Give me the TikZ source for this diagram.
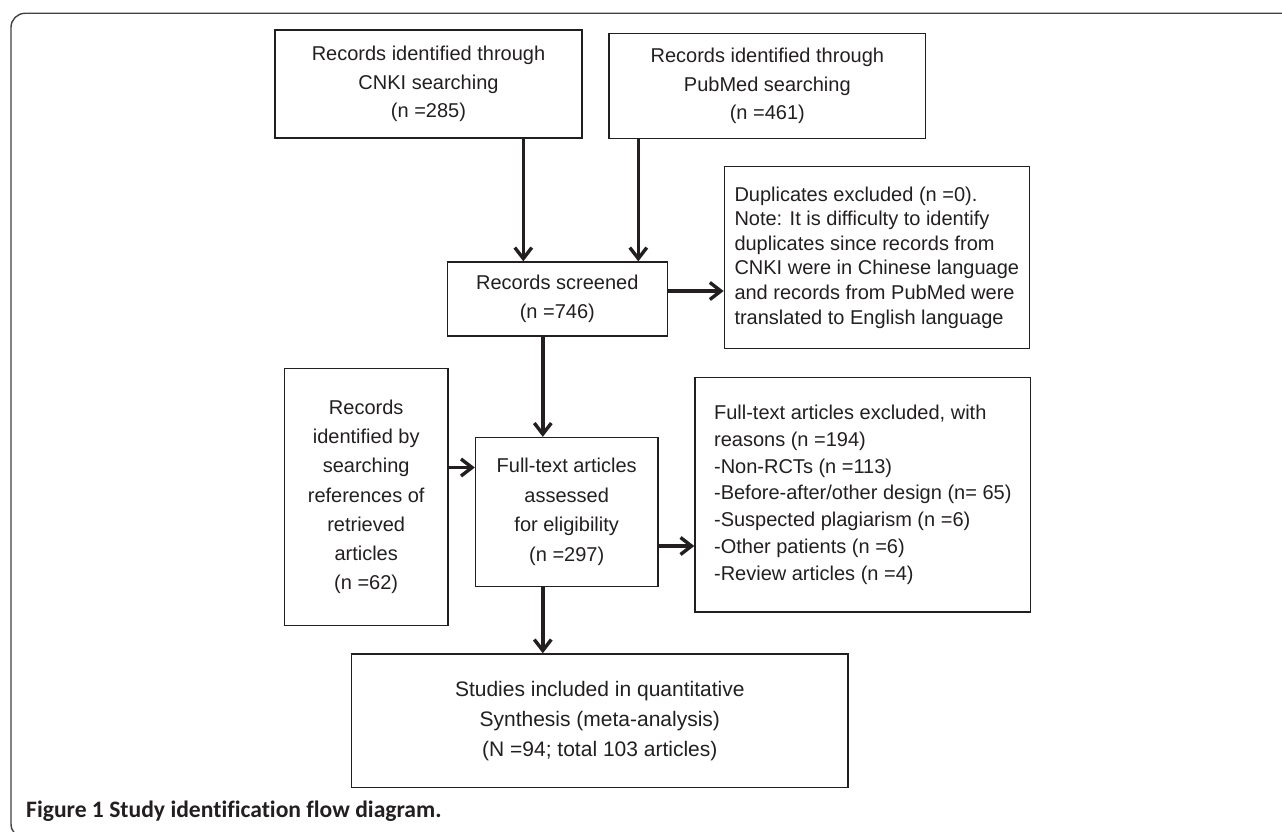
\documentclass[tikz,border=0pt]{standalone}
\usepackage{fontspec}
\setmainfont{Liberation Sans}
\newfontfamily\capfont[Ligatures={NoCommon}]{Carlito}
\usetikzlibrary{arrows.meta}
\definecolor{ink}{HTML}{231F20}
\begin{document}
\begin{tikzpicture}[x=1pt,y=-1pt,
  box/.style={draw=ink, line width=1.3pt, inner sep=0pt, text=ink, align=center,
              font=\fontsize{20}{28.5}\selectfont},
  arr/.style={draw=ink, line width=3.4pt, -{Straight Barb[length=11pt,width=17pt]}}]
\useasboundingbox (0,0) rectangle (1282,832);
\begin{scope}
  \clip (0,0) rectangle (1282,832);
  \draw[ink!85, line width=1.4pt, rounded corners=14pt] (1300,13.3) -- (11,13.3) -- (11,838) -- (1300,838);
\end{scope}

\node[box, minimum width=307pt, minimum height=108pt] (cnki) at (428.5,84)
  {Records identified through\\CNKI searching\\(n =285)};
\node[box, minimum width=316.7pt, minimum height=104.6pt] (pubmed) at (767.3,86)
  {Records identified through\\PubMed searching\\(n =461)};
\node[box, minimum width=220pt, minimum height=74pt] (screened) at (557.3,299)
  {Records screened\\(n =746)};
\node[box, minimum width=305pt, minimum height=181.6pt, align=left,
      font=\fontsize{20}{24.6}\selectfont] (dup) at (876.8,257.5)
  {Duplicates excluded (n =0).\\Note: It is difficulty to identify\\duplicates since records from\\CNKI were in Chinese language\\and records from PubMed were\\translated to English language};
\node[box, minimum width=163.5pt, minimum height=257pt, font=\fontsize{20}{29.2}\selectfont] (refs) at (366.2,497)
  {Records\\identified by\\searching\\references of\\retrieved\\articles\\(n =62)};
\node[box, minimum width=182.5pt, minimum height=149pt, font=\fontsize{20}{29.5}\selectfont] (ft) at (566.7,512)
  {Full-text articles\\assessed\\for eligibility\\(n =297)};
\node[box, minimum width=335.7pt, minimum height=234.3pt, align=left,
      font=\fontsize{20}{26.8}\selectfont] (excl) at (862.8,494.8)
  {Full-text articles excluded, with\\reasons (n =194)\\-Non-RCTs (n =113)\\-Before-after/other design (n= 65)\\-Suspected plagiarism (n =6)\\-Other patients (n =6)\\-Review articles (n =4)};
\node[box, minimum width=496.3pt, minimum height=133.7pt, font=\fontsize{21}{30}\selectfont] (studies) at (599.8,720.8)
  {Studies included in quantitative\\Synthesis (meta-analysis)\\(N =94; total 103 articles)};

\coordinate (xa) at (523.3,0);
\coordinate (xb) at (638.3,0);
\coordinate (xc) at (542.8,0);
\coordinate (ya) at (0,291);
\coordinate (yb) at (0,467.5);
\coordinate (yc) at (0,546);

\draw[arr] (xa |- cnki.south) -- (xa |- screened.north);
\draw[arr] (xb |- pubmed.south) -- (xb |- screened.north);
\draw[arr] (screened.east |- ya) -- (dup.west |- ya);
\draw[arr] (xc |- screened.south) -- (xc |- ft.north);
\draw[arr] (refs.east |- yb) -- (ft.west |- yb);
\draw[arr] (ft.east |- yc) -- (excl.west |- yc);
\draw[arr] (xc |- ft.south) -- (xc |- studies.north);

\node[anchor=base west, inner sep=0pt, text=ink, font=\capfont\bfseries\fontsize{23.6}{28}\selectfont] (cap) at (26,817)
  {Figure 1 Study identification flow diagram.};
\end{tikzpicture}
\end{document}
